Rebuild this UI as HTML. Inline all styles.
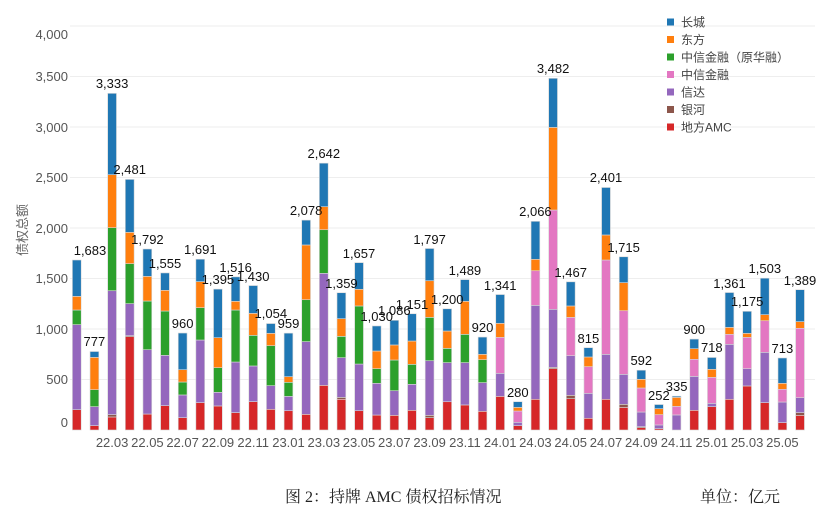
<!DOCTYPE html>
<html><head><meta charset="utf-8"><style>
html,body{margin:0;padding:0;background:#fff;}
svg{display:block;}
.t{font-family:"Liberation Sans","Noto Sans CJK SC",sans-serif;}
</style></head><body>
<svg id="c" width="831" height="523" xmlns="http://www.w3.org/2000/svg">
<g id="grid" stroke="#eeeeee" stroke-width="1">
<line x1="70" x2="815" y1="379.5" y2="379.5"/><line x1="70" x2="815" y1="329" y2="329"/>
<line x1="70" x2="815" y1="278.5" y2="278.5"/><line x1="70" x2="815" y1="228" y2="228"/>
<line x1="70" x2="815" y1="177.5" y2="177.5"/><line x1="70" x2="815" y1="127" y2="127"/>
<line x1="70" x2="815" y1="76.5" y2="76.5"/><line x1="70" x2="815" y1="26" y2="26"/>
</g>
<g class="t" font-size="13" fill="#555" text-anchor="end">
<text x="68" y="427">0</text><text x="68" y="384">500</text><text x="68" y="334">1,000</text>
<text x="68" y="283">1,500</text><text x="68" y="233">2,000</text><text x="68" y="182">2,500</text>
<text x="68" y="132">3,000</text><text x="68" y="81">3,500</text><text x="68" y="39">4,000</text>
</g>
<text class="t" font-size="13" fill="#666" transform="translate(27,230) rotate(-90)" text-anchor="middle">债权总额</text>
<g id="bars"></g>
<g class="t" font-size="13" fill="#111" text-anchor="middle">
<text x="90" y="255">1,683</text><text x="94.4" y="346">777</text><text x="112.1" y="88">3,333</text>
<text x="129.7" y="174">2,481</text><text x="147.4" y="244">1,792</text><text x="165" y="268">1,555</text>
<text x="182.6" y="328">960</text><text x="200.3" y="254">1,691</text><text x="217.9" y="284">1,395</text>
<text x="235.6" y="272">1,516</text><text x="253.2" y="281">1,430</text><text x="270.8" y="318">1,054</text>
<text x="288.5" y="328">959</text><text x="306.1" y="215">2,078</text><text x="323.8" y="158">2,642</text>
<text x="341.4" y="288">1,359</text><text x="359" y="258">1,657</text><text x="376.7" y="321">1,030</text>
<text x="394.3" y="315">1,086</text><text x="412" y="309">1,151</text><text x="429.6" y="244">1,797</text>
<text x="447.2" y="304">1,200</text><text x="464.9" y="275">1,489</text><text x="482.5" y="332">920</text>
<text x="500.2" y="290">1,341</text><text x="517.8" y="397">280</text><text x="535.4" y="216">2,066</text>
<text x="553.1" y="73">3,482</text><text x="570.7" y="277">1,467</text><text x="588.4" y="343">815</text>
<text x="606" y="182">2,401</text><text x="623.6" y="252">1,715</text><text x="641.3" y="365">592</text>
<text x="658.9" y="400">252</text><text x="676.6" y="391">335</text><text x="694.2" y="334">900</text>
<text x="711.8" y="352">718</text><text x="729.5" y="288">1,361</text><text x="747.1" y="306">1,175</text>
<text x="764.8" y="273">1,503</text><text x="782.4" y="353">713</text><text x="800" y="285">1,389</text>
</g>
<g class="t" font-size="13" fill="#555" text-anchor="middle">
<text x="112.1" y="447">22.03</text><text x="147.4" y="447">22.05</text><text x="182.6" y="447">22.07</text>
<text x="217.9" y="447">22.09</text><text x="253.2" y="447">22.11</text><text x="288.5" y="447">23.01</text>
<text x="323.8" y="447">23.03</text><text x="359" y="447">23.05</text><text x="394.3" y="447">23.07</text>
<text x="429.6" y="447">23.09</text><text x="464.9" y="447">23.11</text><text x="500.2" y="447">24.01</text>
<text x="535.4" y="447">24.03</text><text x="570.7" y="447">24.05</text><text x="606" y="447">24.07</text>
<text x="641.3" y="447">24.09</text><text x="676.6" y="447">24.11</text><text x="711.8" y="447">25.01</text>
<text x="747.1" y="447">25.03</text><text x="782.4" y="447">25.05</text>
</g>
<g>
<rect x="667" y="18.5" width="7" height="7" fill="#1f77b4"/><rect x="667" y="36" width="7" height="7" fill="#ff7f0e"/>
<rect x="667" y="53.5" width="7" height="7" fill="#2ca02c"/><rect x="667" y="71" width="7" height="7" fill="#e377c2"/>
<rect x="667" y="88.5" width="7" height="7" fill="#9467bd"/><rect x="667" y="106" width="7" height="7" fill="#8c564b"/>
<rect x="667" y="123.5" width="7" height="7" fill="#d62728"/>
</g>
<g class="t" font-size="12" fill="#444">
<text x="681" y="26.5">长城</text><text x="681" y="44">东方</text><text x="681" y="61.5">中信金融（原华融）</text>
<text x="681" y="79">中信金融</text><text x="681" y="96.5">信达</text><text x="681" y="114">银河</text>
<text x="681" y="131.5">地方AMC</text>
</g>
<text x="285" y="502" font-family="'Liberation Serif','Noto Serif CJK SC',serif" font-size="16" fill="#222">图 2：持牌 AMC 债权招标情况</text>
<text x="700" y="502" font-family="'Liberation Serif','Noto Serif CJK SC',serif" font-size="16" fill="#222">单位：亿元</text>
</svg>
<script>
var D=[[201,201,1043,1043,1188,1323,1683],[43,43,231,231,399,719,777],[129,152,1379,1379,2003,2528,3333],[924,934,1251,1251,1647,1957,2481],[158,158,795,795,1277,1521,1792],[241,241,739,739,1178,1383,1555],[122,122,347,347,475,597,960],[271,271,891,891,1211,1469,1691],[238,238,373,373,617,914,1395],[172,172,673,673,1188,1274,1516],[281,281,634,634,937,1155,1430],[205,205,439,439,835,957,1054],[191,191,333,333,472,528,959],[155,155,875,875,1290,1832,2078],[442,442,1551,1551,1983,2211,2642],[304,323,716,716,927,1102,1359],[191,191,653,653,1228,1393,1657],[148,148,462,462,607,782,1030],[145,145,389,389,693,842,1086],[195,195,452,452,650,881,1151],[122,145,686,686,1115,1478,1797],[280,280,667,667,808,980,1200],[248,248,667,667,947,1274,1489],[185,185,469,469,696,749,920],[333,333,561,917,917,1056,1341],[43,43,76,188,188,224,280],[304,304,1234,1577,1577,1690,2066],[607,620,1195,2178,2178,2996,3482],[310,343,736,1115,1115,1228,1467],[116,116,363,627,627,723,815],[304,304,749,1683,1683,1931,2401],[224,254,551,1181,1181,1459,1715],[23,33,178,416,416,502,592],[13,13,50,152,152,211,252],[0,0,149,234,234,323,335],[195,195,531,700,700,805,900],[231,231,264,521,521,601,718],[304,304,848,947,947,1016,1361],[436,436,607,917,917,957,1175],[271,271,769,1082,1082,1142,1503],[73,73,277,403,403,462,713],[145,172,320,1007,1007,1073,1389]];
var C=["#d62728","#8c564b","#9467bd","#e377c2","#2ca02c","#ff7f0e","#1f77b4"];
var g=document.getElementById("bars"),ns="http://www.w3.org/2000/svg";
D.forEach(function(b,i){var cx=76.8+i*17.64,prev=0;
b.forEach(function(v,k){if(v>prev){var r=document.createElementNS(ns,"rect");
var y1=430-v*0.101,y0=430-prev*0.101;
r.setAttribute("x",cx-4.4);r.setAttribute("width",8.8);r.setAttribute("y",y1);r.setAttribute("height",y0-y1);
r.setAttribute("fill",C[k]);r.setAttribute("stroke","#d8d8d8");r.setAttribute("stroke-width","0.6");g.appendChild(r);}
if(v>prev)prev=v;});});
</script>
</body></html>
